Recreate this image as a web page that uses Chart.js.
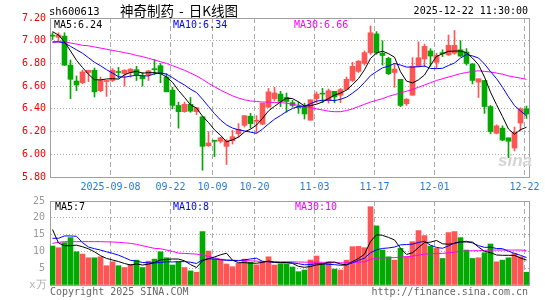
<!DOCTYPE html>
<html lang="zh">
<head>
  <meta charset="UTF-8">
  <title>sh600613 日K线图</title>
  <script src="https://cdn.jsdelivr.net/npm/chart.js"></script>
  <style>
    body { margin: 0; background: #fff; }
    #wrap { position: relative; width: 545px; height: 300px; overflow: hidden; }
    canvas { position: absolute; left: 0; top: 0; }
    .t { position: absolute; font: 10px 'DejaVu Sans Mono', monospace; line-height: 10px; white-space: pre; }
  </style>
</head>
<body>
<div id="wrap">
  <canvas id="kline" width="545" height="300"></canvas>
  <canvas id="vol" width="545" height="300"></canvas>

  <!-- header -->
  <div class="t" style="left:49px;top:6px;font-size:10.5px;">sh600613</div>
  <div class="t" style="left:120px;top:3px;font:13.5px 'Noto Sans CJK SC';line-height:15px;">神奇制药 <span style="margin:0 2px">-</span> 日K线图</div>
  <div class="t" style="right:17px;top:6px;">2025-12-22 11:30:00</div>

  <!-- price legend -->
  <div class="t" style="left:54px;top:20px;color:#000;">MA5:6.24</div>
  <div class="t" style="left:173px;top:20px;color:#0000ff;">MA10:6.34</div>
  <div class="t" style="left:294px;top:20px;color:#ff00ff;">MA30:6.66</div>
  <div class="t" style="left:498px;top:152px;font:italic bold 17px 'Liberation Sans';line-height:18px;color:#d4d4d4;">sina</div>

  <!-- volume legend -->
  <div class="t" style="left:55px;top:202px;color:#000;">MA5:7</div>
  <div class="t" style="left:173px;top:202px;color:#0000ff;">MA10:8</div>
  <div class="t" style="left:295px;top:202px;color:#ff00ff;">MA30:10</div>
  <div class="t" style="left:29px;top:279px;color:#b0b0b0;font-size:11px;line-height:12px;">x万</div>

  <!-- footer -->
  <div class="t" style="left:50px;top:287px;color:#666;">Copyright 2025 SINA.COM</div>
  <div class="t" style="right:17px;top:287px;color:#666;">http://finance.sina.com.cn</div>
</div>

<script>
// trading day 0 = 2025-08-25 ... 79 = 2025-12-22
const tickIdx = [10, 20, 27, 34, 44, 54, 64, 79];
const tickLabels = ['2025-09-08', '09-22', '10-09', '10-20', '11-03', '11-17', '12-01', '12-22'];
const priceTicks = [5.8, 6.0, 6.2, 6.4, 6.6, 6.8, 7.0, 7.2];
const volTicks = [0, 5, 10, 15, 20, 25];

const opens = [7.045,7.03,7.04,6.785,6.645,6.63,6.72,6.74,6.56,6.64,
  6.65,6.725,6.71,6.72,6.745,6.69,6.70,6.75,6.78,6.68,
  6.565,6.43,6.375,6.44,6.375,6.33,6.075,6.12,6.115,6.07,
  6.12,6.18,6.255,6.335,6.29,6.265,6.415,6.49,6.53,6.50,
  6.455,6.415,6.42,6.30,6.49,6.535,6.475,6.555,6.52,6.57,
  6.65,6.73,6.80,6.895,7.06,6.89,6.845,6.72,6.66,6.445,
  6.52,6.775,6.84,6.91,6.81,6.895,6.875,6.89,6.92,6.90,
  6.795,6.635,6.65,6.42,6.185,6.23,6.145,6.055,6.275,6.40];
const highs = [7.07,7.07,7.07,6.83,6.69,6.74,6.74,6.76,6.68,6.65,
  6.755,6.765,6.745,6.755,6.775,6.72,6.74,6.835,6.80,6.71,
  6.59,6.46,6.46,6.50,6.41,6.33,6.20,6.12,6.15,6.13,
  6.21,6.27,6.34,6.36,6.34,6.45,6.58,6.59,6.555,6.54,
  6.475,6.46,6.45,6.48,6.55,6.58,6.575,6.555,6.58,6.68,
  6.81,6.825,6.91,7.13,7.08,7.00,6.855,6.80,6.66,6.49,
  6.85,6.99,6.97,6.93,6.89,6.92,7.05,7.09,7.00,6.93,
  6.80,6.665,6.65,6.43,6.26,6.25,6.145,6.24,6.41,6.425];
const lows = [7.01,7.00,6.78,6.49,6.56,6.62,6.64,6.505,6.55,6.51,
  6.64,6.67,6.60,6.68,6.65,6.60,6.65,6.70,6.63,6.55,
  6.40,6.23,6.37,6.37,6.35,5.86,6.07,5.98,6.10,5.91,
  6.09,6.15,6.24,6.23,6.19,6.26,6.41,6.47,6.42,6.37,
  6.415,6.36,6.31,6.30,6.455,6.455,6.45,6.455,6.455,6.57,
  6.64,6.72,6.785,6.88,6.88,6.785,6.70,6.59,6.42,6.43,
  6.52,6.77,6.77,6.775,6.755,6.86,6.87,6.88,6.86,6.785,
  6.62,6.50,6.36,6.18,6.18,6.12,5.97,6.03,6.205,6.315];
const closes = [7.04,7.05,6.785,6.66,6.61,6.725,6.74,6.55,6.65,6.65,
  6.74,6.72,6.74,6.75,6.70,6.665,6.735,6.745,6.71,6.55,
  6.43,6.375,6.44,6.38,6.41,6.07,6.10,6.115,6.145,6.12,
  6.155,6.22,6.34,6.27,6.30,6.45,6.55,6.54,6.465,6.465,
  6.43,6.41,6.355,6.48,6.53,6.53,6.56,6.505,6.57,6.66,
  6.775,6.82,6.895,7.07,6.895,6.87,6.71,6.75,6.43,6.485,
  6.775,6.85,6.95,6.865,6.87,6.885,6.96,6.96,6.865,6.80,
  6.65,6.665,6.42,6.20,6.25,6.125,6.115,6.195,6.40,6.355];

const ma5 = [7.08,7.05,6.99,6.91,6.827,6.764,6.704,6.657,6.655,6.663,
  6.666,6.662,6.70,6.72,6.73,6.715,6.718,6.719,6.711,6.681,
  6.634,6.562,6.501,6.435,6.407,6.335,6.28,6.215,6.168,6.11,
  6.127,6.151,6.196,6.221,6.257,6.316,6.382,6.422,6.461,6.494,
  6.49,6.462,6.425,6.428,6.441,6.461,6.491,6.521,6.539,6.565,
  6.614,6.666,6.744,6.844,6.891,6.908,6.886,6.855,6.727,6.645,
  6.628,6.656,6.698,6.785,6.862,6.885,6.907,6.909,6.909,6.895,
  6.847,6.788,6.68,6.547,6.437,6.332,6.222,6.177,6.217,6.238];
const ma10 = [6.99,6.99,6.98,6.95,6.92,6.89,6.85,6.81,6.78,6.745,
  6.715,6.683,6.679,6.688,6.697,6.691,6.69,6.71,6.716,6.706,
  6.675,6.64,6.61,6.573,6.544,6.485,6.421,6.358,6.302,6.259,
  6.231,6.216,6.206,6.195,6.184,6.222,6.267,6.309,6.341,6.376,
  6.403,6.422,6.424,6.445,6.468,6.476,6.477,6.473,6.484,6.503,
  6.538,6.579,6.633,6.692,6.728,6.761,6.776,6.80,6.786,6.768,
  6.768,6.771,6.777,6.756,6.754,6.757,6.782,6.804,6.847,6.879,
  6.866,6.848,6.795,6.728,6.666,6.59,6.505,6.429,6.382,6.338];
const ma30 = [6.985,6.99,6.99,6.98,6.97,6.96,6.955,6.945,6.935,6.925,
  6.915,6.905,6.895,6.885,6.87,6.86,6.845,6.83,6.815,6.80,
  6.78,6.76,6.74,6.715,6.69,6.66,6.625,6.595,6.565,6.54,
  6.515,6.495,6.48,6.47,6.465,6.46,6.46,6.455,6.455,6.45,
  6.44,6.43,6.42,6.41,6.40,6.39,6.38,6.375,6.375,6.385,
  6.40,6.42,6.44,6.46,6.475,6.49,6.51,6.525,6.54,6.555,
  6.57,6.59,6.61,6.63,6.65,6.665,6.68,6.695,6.71,6.72,
  6.73,6.735,6.73,6.725,6.715,6.705,6.69,6.68,6.67,6.66];

// volume, x10k lots
const volumes = [11.6,11.1,12.6,14.1,9.9,9.2,8.1,8.1,8.4,5.75,
  6.9,5.75,5.2,6.15,7.4,5.2,7.1,7.7,9.9,8.1,
  5.95,6.9,5.2,4.2,3.8,15.9,10.1,7.7,7.4,6.25,
  5.45,6.45,7.7,6.75,6.0,6.75,8.4,5.95,6.25,6.25,
  5.35,3.97,4.46,7.44,8.63,6.45,6.9,4.75,4.45,7.4,
  11.4,11.5,11.1,23.3,17.6,10.4,8.4,7.4,10.9,8.4,
  12.9,16.2,14.7,11.6,10.9,7.9,15.6,15.9,14.1,10.4,
  7.9,8.1,9.6,12.2,6.9,7.4,8.1,9.4,8.4,3.8];
const volMa5 = [16.5,12.5,11.7,11.7,11.86,11.38,10.78,9.88,8.74,7.91,
  7.45,6.98,6.40,5.95,6.28,5.94,6.21,6.71,7.46,7.60,
  7.75,7.71,7.21,6.07,5.21,7.20,7.84,8.34,8.98,9.47,
  7.38,6.65,6.65,6.52,6.47,6.73,7.12,6.77,6.67,6.72,
  6.44,5.55,5.26,5.49,5.97,6.19,6.78,6.83,6.24,5.99,
  6.98,7.90,9.17,12.94,14.98,14.78,14.16,13.42,10.94,9.10,
  9.60,11.16,12.62,12.76,13.26,12.26,12.14,12.38,12.88,12.78,
  12.78,11.28,10.02,9.64,8.94,8.84,8.84,8.80,8.04,7.42];
const volMa10 = [13.9,13.9,14.6,14.6,14.5,12.6,11.3,10.8,10.4,9.89,
  9.42,8.88,8.14,7.35,7.10,6.70,6.60,6.56,6.71,6.94,
  6.85,6.96,6.96,6.77,6.41,7.48,7.78,7.78,7.53,7.34,
  7.29,7.25,7.50,7.75,7.97,7.06,6.89,6.71,6.60,6.60,
  6.59,6.34,6.01,6.08,6.35,6.32,6.17,6.05,5.87,5.98,
  6.59,7.34,8.00,9.59,10.49,10.88,11.03,11.30,11.94,12.04,
  12.19,12.66,13.02,11.85,11.18,10.93,11.65,12.50,12.82,13.02,
  12.52,11.71,11.20,11.26,10.86,10.81,10.06,9.41,8.84,8.18];
const volMa30 = [12.4,12.7,12.9,12.9,12.9,12.9,12.9,12.9,12.9,12.85,
  12.8,12.7,12.55,12.4,12.1,11.7,11.3,10.9,10.8,10.4,
  10.0,9.5,9.4,9.3,9.2,8.9,8.5,8.1,7.7,7.5,
  7.4,7.3,7.25,7.2,7.1,7.0,7.0,6.95,6.9,6.9,
  6.9,6.85,6.8,6.8,6.8,6.75,6.7,6.65,6.6,6.6,
  6.7,6.8,6.9,7.6,8.0,8.1,8.1,8.15,8.3,8.4,
  8.6,8.9,9.2,9.3,9.4,9.4,9.6,9.8,10.0,10.1,
  10.2,10.2,10.3,10.4,10.4,10.4,10.4,10.4,10.4,10.3];

const RED = '#ff5555', GREEN = '#00aa00', FRAME = '#a0a0a0', GRID = '#ababab';
const candleColors = closes.map((c, i) => c >= opens[i] ? RED : GREEN);
const xMin = -5 / 12, xMax = 79 + 5 / 12;

Chart.defaults.font.family = "'DejaVu Sans Mono', monospace";
Chart.defaults.font.size = 10;

function pts(arr) { return arr.map((v, i) => ({ x: i, y: v })); }
function maLine(arr, color) {
  return { type: 'line', data: pts(arr), borderColor: color, borderWidth: 1,
    pointRadius: 0, tension: 0, fill: false, order: 0, xAxisID: 'x', yAxisID: 'y' };
}
function frameScales(yMin, yMax) {
  return {
    xTop: { type: 'linear', position: 'top', min: xMin, max: xMax,
      ticks: { display: false }, grid: { display: false, drawTicks: false },
      border: { color: FRAME }, afterFit: s => { s.height = 0; } },
    yRight: { type: 'linear', position: 'right', min: yMin, max: yMax,
      ticks: { display: false }, grid: { display: false, drawTicks: false },
      border: { color: FRAME }, afterFit: s => { s.width = 0; } }
  };
}

// price chart
new Chart(document.getElementById('kline'), {
  type: 'bar',
  data: {
    datasets: [
      maLine(ma5, '#000000'),
      maLine(ma10, '#0000ff'),
      maLine(ma30, '#ff00ff'),
      { data: opens.map((o, i) => ({ x: i, y: [o, closes[i]] })),
        backgroundColor: candleColors, barThickness: 5, minBarLength: 1,
        grouped: false, borderWidth: 0, order: 1, xAxisID: 'x', yAxisID: 'y' },
      { data: lows.map((l, i) => ({ x: i, y: [l, highs[i]] })),
        backgroundColor: candleColors, barThickness: 1,
        grouped: false, borderWidth: 0, order: 2, xAxisID: 'x', yAxisID: 'y' }
    ]
  },
  options: {
    responsive: false, animation: false, devicePixelRatio: 1,
    layout: { padding: { top: 18, right: 16, bottom: 105, left: 0 } },
    plugins: { legend: { display: false }, tooltip: { enabled: false } },
    scales: {
      x: { type: 'linear', min: xMin, max: xMax, offset: false,
        afterBuildTicks: s => { s.ticks = tickIdx.map(i => ({ value: i - 1 / 3 })); },
        afterFit: s => { s.height = 18; },
        ticks: { autoSkip: false, maxRotation: 0, padding: 4, color: '#1c7ed6',
          callback: (v, k) => tickLabels[k] },
        grid: { color: GRID, drawTicks: false, offset: false },
        border: { color: FRAME, dash: [5, 3] } },
      y: { min: 5.8, max: 7.2,
        afterBuildTicks: s => { s.ticks = priceTicks.map(v => ({ value: v })); },
        afterFit: s => { s.width = 50; },
        ticks: { color: '#ee0000', padding: 4, callback: v => v.toFixed(2) },
        grid: { color: GRID, drawTicks: false },
        border: { color: FRAME, dash: [1, 2] } },
      ...frameScales(5.8, 7.2)
    }
  }
});

// volume chart
new Chart(document.getElementById('vol'), {
  type: 'bar',
  data: {
    datasets: [
      maLine(volMa5, '#000000'),
      maLine(volMa10, '#0000ff'),
      maLine(volMa30, '#ff00ff'),
      { data: pts(volumes), backgroundColor: candleColors, barThickness: 5,
        grouped: false, borderWidth: 0, order: 1, xAxisID: 'x', yAxisID: 'y' }
    ]
  },
  options: {
    responsive: false, animation: false, devicePixelRatio: 1,
    layout: { padding: { top: 201, right: 16, bottom: 15, left: 0 } },
    plugins: { legend: { display: false }, tooltip: { enabled: false } },
    scales: {
      x: { type: 'linear', min: xMin, max: xMax, offset: false,
        afterBuildTicks: s => { s.ticks = tickIdx.map(i => ({ value: i - 1 / 3 })); },
        afterFit: s => { s.height = 0; },
        ticks: { display: false },
        grid: { color: GRID, drawTicks: false, offset: false },
        border: { color: FRAME, dash: [5, 3] } },
      y: { min: 0, max: 25,
        afterBuildTicks: s => { s.ticks = volTicks.map(v => ({ value: v })); },
        afterFit: s => { s.width = 50; },
        ticks: { color: '#999999', padding: 5, callback: v => v === 0 ? '' : v },
        grid: { color: GRID, drawTicks: false },
        border: { color: FRAME, dash: [1, 2] } },
      ...frameScales(0, 25)
    }
  }
});
</script>
</body>
</html>
